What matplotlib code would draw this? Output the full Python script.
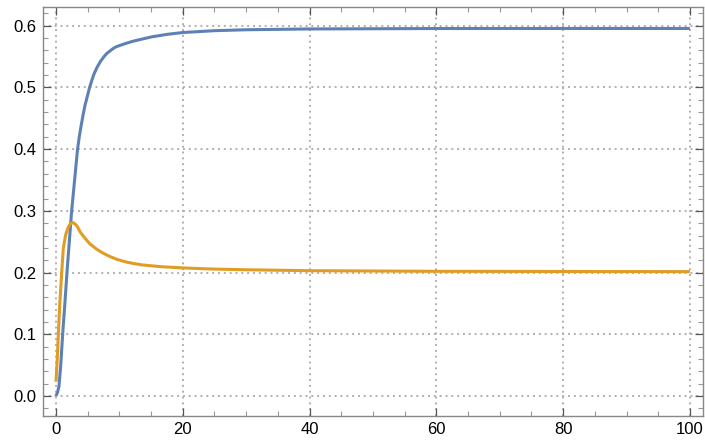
import matplotlib
matplotlib.use("Agg")
import matplotlib.pyplot as plt
from matplotlib.ticker import MultipleLocator

# values
t_blue = [0, 0.25, 0.47, 0.75, 1.05, 1.4, 1.73, 2.1, 2.47, 3.0, 3.4, 3.7, 4.0,
          4.3, 4.6, 5.0, 5.3, 5.7, 6.0, 6.5, 7.0, 7.5, 8.0, 8.5, 9.0, 9.5,
          10.9, 12.0, 13.0, 15.1, 17.5, 20, 25, 30, 40, 60, 80, 100]
v_blue = [0.0, 0.006, 0.016, 0.05, 0.1, 0.15, 0.2, 0.25, 0.3, 0.357, 0.4,
          0.422, 0.44, 0.457, 0.472, 0.488, 0.5, 0.513, 0.522, 0.533, 0.542,
          0.549, 0.555, 0.559, 0.563, 0.566, 0.571, 0.5745, 0.577, 0.582,
          0.586, 0.589, 0.592, 0.5935, 0.5948, 0.5955, 0.5956, 0.5956]

t_orange = [0, 0.2, 0.37, 0.6, 0.9, 1.15, 1.52, 1.8, 2.0, 2.2, 2.4, 2.7, 3.1,
            3.4, 3.8, 4.3, 4.8, 5.3, 5.9, 6.4, 7.0, 7.7, 8.5, 9.7, 11.1, 12.3,
            13.5, 15.0, 16.4, 20, 24.3, 30, 40, 60, 80, 100]
v_orange = [0.023, 0.06, 0.1, 0.15, 0.2, 0.239, 0.261, 0.27, 0.275, 0.278,
            0.28, 0.281, 0.278, 0.274, 0.266, 0.259, 0.253, 0.247, 0.242,
            0.238, 0.234, 0.23, 0.226, 0.221, 0.217, 0.2145, 0.2125, 0.211,
            0.2096, 0.2075, 0.2058, 0.2045, 0.203, 0.202, 0.2017, 0.2015]

x_ticks = [0, 20, 40, 60, 80, 100]
y_ticks = [0.0, 0.1, 0.2, 0.3, 0.4, 0.5, 0.6]

plt.rcParams["font.family"] = ["Liberation Sans", "DejaVu Sans"]

fig = plt.figure(figsize=(7.05, 4.41), dpi=100)
ax = fig.add_axes([0.061, 0.0574, 0.936, 0.9276])

ax.plot(t_blue, v_blue, color="#5e81b5", lw=2.2, solid_capstyle="butt",
        solid_joinstyle="round", zorder=3)
ax.plot(t_orange, v_orange, color="#e19c24", lw=2.2, solid_capstyle="butt",
        solid_joinstyle="round", zorder=3)

ax.set_xlim(-2.05, 102.05)
ax.set_ylim(-0.032, 0.631)
ax.set_xticks(x_ticks)
ax.set_yticks(y_ticks)
ax.set_yticklabels([f"{v:.1f}" for v in y_ticks])
ax.xaxis.set_minor_locator(MultipleLocator(5))
ax.yaxis.set_minor_locator(MultipleLocator(0.02))

ax.grid(True, which="major", color="#b0b0b0", linestyle=(0, (1, 2)), lw=1.4,
        dash_capstyle="butt")
ax.tick_params(which="both", direction="in", top=True, right=True,
               labelsize=12, labelcolor="black", pad=4.5)
ax.tick_params(which="major", length=6, width=0.9, color="#555555")
ax.tick_params(which="minor", length=3.5, width=0.8, color="#999999")
for s in ax.spines.values():
    s.set_color("#888888")
    s.set_linewidth(1.0)

fig.savefig("out.png", dpi=100)
